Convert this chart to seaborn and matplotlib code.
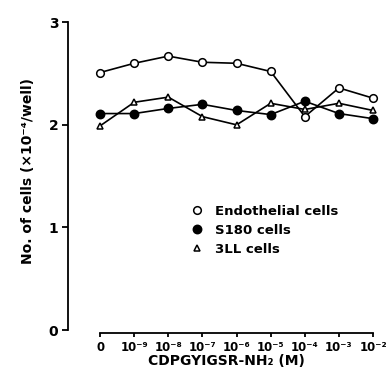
import matplotlib
matplotlib.use("Agg")
import matplotlib.pyplot as plt
import seaborn as sns
import pandas as pd

conc_labels = ["0", "10⁻⁹", "10⁻⁸", "10⁻⁷", "10⁻⁶",
               "10⁻⁵", "10⁻⁴", "10⁻³", "10⁻²"]
endothelial = [2.51, 2.60, 2.67, 2.61, 2.60, 2.52, 2.08, 2.36, 2.26]
s180 = [2.11, 2.11, 2.16, 2.20, 2.14, 2.10, 2.23, 2.11, 2.06]
lll = [1.99, 2.22, 2.27, 2.08, 2.00, 2.21, 2.15, 2.21, 2.14]
series_names = ["Endothelial cells", "S180 cells", "3LL cells"]

sns.set_theme(style="ticks")
plt.rcParams['font.family'] = ['DejaVu Sans']
plt.rcParams['text.color'] = 'black'
plt.rcParams['axes.labelcolor'] = 'black'
plt.rcParams['xtick.color'] = 'black'
plt.rcParams['ytick.color'] = 'black'

pos = list(range(len(conc_labels)))
df = pd.concat([
    pd.DataFrame({"pos": pos, "val": vals, "series": name})
    for name, vals in zip(series_names, [endothelial, s180, lll])
])

fig = plt.figure(figsize=(3.89, 3.71), dpi=100)
ax = fig.add_axes([68/389, (371-330)/371, (385-68)/389, (330-12)/371])

styles = {
    "Endothelial cells": dict(marker="o", mfc="white", ms=5.5),
    "S180 cells": dict(marker="o", mfc="black", ms=6),
    "3LL cells": dict(marker="^", mfc="white", ms=5),
}
for name in series_names:
    st = styles[name]
    sub = df[df.series == name]
    sns.lineplot(data=sub, x="pos", y="val", ax=ax, color="black", lw=1.2,
                 marker=st["marker"], markerfacecolor=st["mfc"],
                 markeredgecolor="black", markeredgewidth=1.1,
                 markersize=st["ms"], label=name)

ax.set_xlim(-0.94, 8.35)
ax.set_ylim(0, 3.1)
ax.spines['top'].set_visible(False)
ax.spines['right'].set_visible(False)
ax.spines['left'].set_bounds(0, 3)
ax.spines['bottom'].set_bounds(0, 8)
ax.spines['bottom'].set_position(('outward', 2))
for s in ['left', 'bottom']:
    ax.spines[s].set_linewidth(1.3)
    ax.spines[s].set_color('black')
ax.tick_params(axis='y', direction='out', length=4, width=1.3, pad=3,
               colors='black', labelsize=10)
ax.tick_params(axis='x', direction='out', length=3, width=1.3, pad=3,
               colors='black', labelsize=8.5)

ax.set_yticks([0, 1, 2, 3])
ax.set_yticklabels(["0", "1", "2", "3"], fontsize=10, fontweight="bold")
ax.set_xticks(pos)
ax.set_xticklabels(conc_labels, fontsize=8.5, fontweight="bold")

ax.set_xlabel("CDPGYIGSR-NH₂ (M)", fontsize=10, fontweight="bold", labelpad=0)
ax.set_ylabel("No. of cells (×10⁻⁴/well)", fontsize=10, fontweight="bold", labelpad=10)

leg = ax.legend(loc="upper left", bbox_to_anchor=(0.385, 0.415), frameon=False,
                fontsize=9.5, handlelength=0, handletextpad=1.4,
                labelspacing=0.45, borderpad=0)
for t in leg.get_texts():
    t.set_fontweight("bold")
for h in leg.legend_handles:
    h.set_linestyle("none")

fig.savefig("out.png", dpi=100)
